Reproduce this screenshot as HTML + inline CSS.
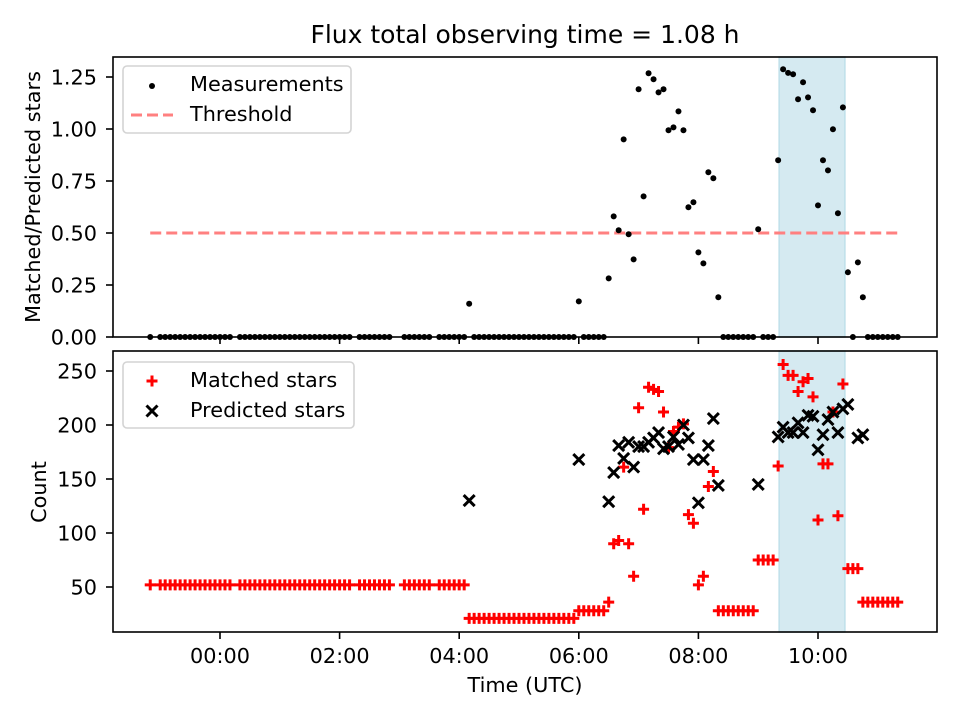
<!DOCTYPE html>
<html><head><meta charset="utf-8"><style>
body{margin:0;background:#fff;}
svg{display:block;font-family:"DejaVu Sans","Liberation Sans",sans-serif;}
</style></head><body>
<svg id="fig" width="960" height="720" viewBox="0 0 960 720">
<rect width="960" height="720" fill="#fff"/>
<text x="525" y="43" font-size="25" text-anchor="middle" fill="#000">Flux total observing time = 1.08 h</text>
<g id="topPanel"></g>
<g id="botPanel"></g>
<text x="525" y="692" font-size="20.8" text-anchor="middle">Time (UTC)</text>
<text transform="translate(40,197) rotate(-90)" font-size="20.8" text-anchor="middle">Matched/Predicted stars</text>
<text transform="translate(46,492) rotate(-90)" font-size="20.8" text-anchor="middle">Count</text>
</svg>
<script>
// time in minutes from 00:00 UTC
const times = [-70,-60,-55,-50,-45,-40,-35,-30,-25,-20,-15,-10,-5,0,5,10,20,25,30,35,40,45,50,55,60,65,70,75,80,85,90,95,100,105,110,115,120,125,130,140,145,150,155,160,165,170,185,190,195,200,205,210,220,225,230,235,240,245,
250,
255,260,265,270,275,280,285,290,295,300,305,310,315,320,325,330,335,340,345,350,355,
360,365,370,375,380,385,390,395,400,405,410,415,420,425,430,435,440,445,450,455,460,465,470,475,480,485,490,495,500,505,510,515,520,525,530,535,540,545,550,555,560,565,570,575,580,585,590,595,600,605,610,615,620,625,630,635,640,645,650,655,660,665,670,675,680];
const ratio = [0,0,0,0,0,0,0,0,0,0,0,0,0,0,0,0,0,0,0,0,0,0,0,0,0,0,0,0,0,0,0,0,0,0,0,0,0,0,0,0,0,0,0,0,0,0,0,0,0,0,0,0,0,0,0,0,0,0,
0.16,
0,0,0,0,0,0,0,0,0,0,0,0,0,0,0,0,0,0,0,0,0,
0.171,0,0,0,0,0,0.282,0.580,0.513,0.950,0.494,0.373,1.191,0.676,1.268,1.239,1.176,1.191,0.994,1.008,1.085,0.994,0.624,0.648,0.407,0.354,0.792,0.763,0.191,0,0,0,0,0,0,0,0.518,0,0,0,0.850,1.287,1.270,1.263,1.143,1.225,1.152,1.090,0.633,0.850,0.801,0.999,0.595,1.104,0.311,0,0.359,0.191,0,0,0,0,0,0,0];
const matched = [52,52,52,52,52,52,52,52,52,52,52,52,52,52,52,52,52,52,52,52,52,52,52,52,52,52,52,52,52,52,52,52,52,52,52,52,52,52,52,52,52,52,52,52,52,52,52,52,52,52,52,52,52,52,52,52,52,52,
21,
21,21,21,21,21,21,21,21,21,21,21,21,21,21,21,21,21,21,21,21,21,
28,28,28,28,28,28,36,90,93,161,90,60,216,122,235,233,231,212,179,194,198,201,117,109,52,60,143,157,28,28,28,28,28,28,28,28,75,75,75,75,162,256,246,246,231,240,243,226,112,164,164,212,116,238,67,67,67,36,36,36,36,36,36,36,36];
const N=null;
const predicted = [N,N,N,N,N,N,N,N,N,N,N,N,N,N,N,N,N,N,N,N,N,N,N,N,N,N,N,N,N,N,N,N,N,N,N,N,N,N,N,N,N,N,N,N,N,N,N,N,N,N,N,N,N,N,N,N,N,N,
130,
N,N,N,N,N,N,N,N,N,N,N,N,N,N,N,N,N,N,N,N,N,
168,N,N,N,N,N,129,156,181,169,184,161,180,180,184,188,193,178,180,189,182,200,188,168,128,168,181,206,144,N,N,N,N,N,N,N,145,N,N,N,189,198,193,193,202,193,209,208,177,191,205,212,193,215,219,N,188,191,N,N,N,N,N,N,N];
const xTickMinutes = [0,120,240,360,480,600];
const xTickLabels = ["00:00","02:00","04:00","06:00","08:00","10:00"];
const topTicks = [0,0.25,0.5,0.75,1.0,1.25];
const topTickLabels = ["0.00","0.25","0.50","0.75","1.00","1.25"];
const botTicks = [50,100,150,200,250];
const threshold = [0.5];
const thresholdSpan = [-70,680];
const shadeSpan = [561,627];

const NS="http://www.w3.org/2000/svg";
const L=113,R=937;
const T1=57,B1=337,T2=351,B2=632;
const xs=m=>220+m*59.8/60;
const y1=v=>337-v*208;
const y2=v=>641-v*1.08;
function mk(parent,tag,attrs){const e=document.createElementNS(NS,tag);for(const k in attrs)e.setAttribute(k,attrs[k]);parent.appendChild(e);return e;}
const topG=document.getElementById('topPanel'), botG=document.getElementById('botPanel');
const FS=20.8;

function panel(g,T,B,ticks,labels,yf,showX,prefix){
  const s=mk(g,'rect',{x:xs(shadeSpan[0]),y:T,width:xs(shadeSpan[1])-xs(shadeSpan[0]),height:B-T,fill:'#d5eaf1',stroke:'#bfe0ea','stroke-width':1.5});
  
  
  ticks.forEach((v,i)=>{
    const y=yf(v);
    const t=mk(g,'line',{x1:L-7,x2:L,y1:y,y2:y,stroke:'#000','stroke-width':1.6});
    
    
    const tx=mk(g,'text',{x:L-16,y:y+7.5,'font-size':FS,'text-anchor':'end'});
    tx.textContent=labels[i];
    
    
  });
  xTickMinutes.forEach((m,i)=>{
    const x=xs(m);
    const t=mk(g,'line',{x1:x,x2:x,y1:B,y2:B+7,stroke:'#000','stroke-width':1.6});
    
    
    if(showX){
      const tx=mk(g,'text',{x:x,y:B+31,'font-size':FS,'text-anchor':'middle'});
      tx.textContent=xTickLabels[i];
      
      
    }
  });
}
panel(topG,T1,B1,topTicks,topTickLabels,y1,false,'top');
panel(botG,T2,B2,botTicks,botTicks.map(String),y2,true,'bottom');

const th=mk(topG,'line',{x1:xs(thresholdSpan[0]),x2:xs(thresholdSpan[1]),y1:y1(threshold[0]),y2:y1(threshold[0]),stroke:'#ff8080','stroke-width':3,'stroke-dasharray':'11,5'});


times.forEach((m,i)=>{
  const c=mk(topG,'circle',{cx:xs(m),cy:y1(ratio[i]),r:3,fill:'#000'});
  
  
});
times.forEach((m,i)=>{
  if(matched[i]==null)return;
  const x=xs(m),y=y2(matched[i]),h=5.5;
  const p=mk(botG,'path',{d:`M${x-h},${y}H${x+h}M${x},${y-h}V${y+h}`,stroke:'#ff0000','stroke-width':3,fill:'none'});
  
  
});
times.forEach((m,i)=>{
  if(predicted[i]==null)return;
  const x=xs(m),y=y2(predicted[i]),h=5.5;
  const p=mk(botG,'path',{d:`M${x-h},${y-h}L${x+h},${y+h}M${x-h},${y+h}L${x+h},${y-h}`,stroke:'#000','stroke-width':3,fill:'none'});
  
  
});
[[topG,T1,B1],[botG,T2,B2]].forEach(([g,T,B],k)=>{
  const f=mk(g,'rect',{x:L,y:T,width:R-L,height:B-T,fill:'none',stroke:'#000','stroke-width':1.6});
  
  
});
function legend(g,x,y,w,h,base,items,name){
  const lg=mk(g,'g',{});
  
  
  mk(lg,'rect',{x:x,y:y,width:w,height:h,rx:4,fill:'#fff','fill-opacity':0.85,stroke:'#d4d4d4','stroke-width':1.6});
  items.forEach((it,i)=>{
    const yy=base+i*30;
    it.draw(lg,152,yy-6);
    const t=mk(lg,'text',{x:190,y:yy,'font-size':FS});
    t.textContent=it.label;
    
    
  });
}
legend(topG,123,66,228,67,91,[
  {label:'Measurements',draw:(g,x,y)=>mk(g,'circle',{cx:x,cy:y+1,r:3,fill:'#000'})},
  {label:'Threshold',draw:(g,x,y)=>mk(g,'line',{x1:x-21,x2:x+21,y1:y,y2:y,stroke:'#ff8080','stroke-width':3,'stroke-dasharray':'11,5'})}
],'top-legend');
legend(botG,123,362,231,66,387,[
  {label:'Matched stars',draw:(g,x,y)=>mk(g,'path',{d:`M${x-5.5},${y}H${x+5.5}M${x},${y-5.5}V${y+5.5}`,stroke:'#f00','stroke-width':3})},
  {label:'Predicted stars',draw:(g,x,y)=>mk(g,'path',{d:`M${x-5.5},${y-5.5}L${x+5.5},${y+5.5}M${x-5.5},${y+5.5}L${x+5.5},${y-5.5}`,stroke:'#000','stroke-width':3})}
],'bottom-legend');
</script>
</body></html>
